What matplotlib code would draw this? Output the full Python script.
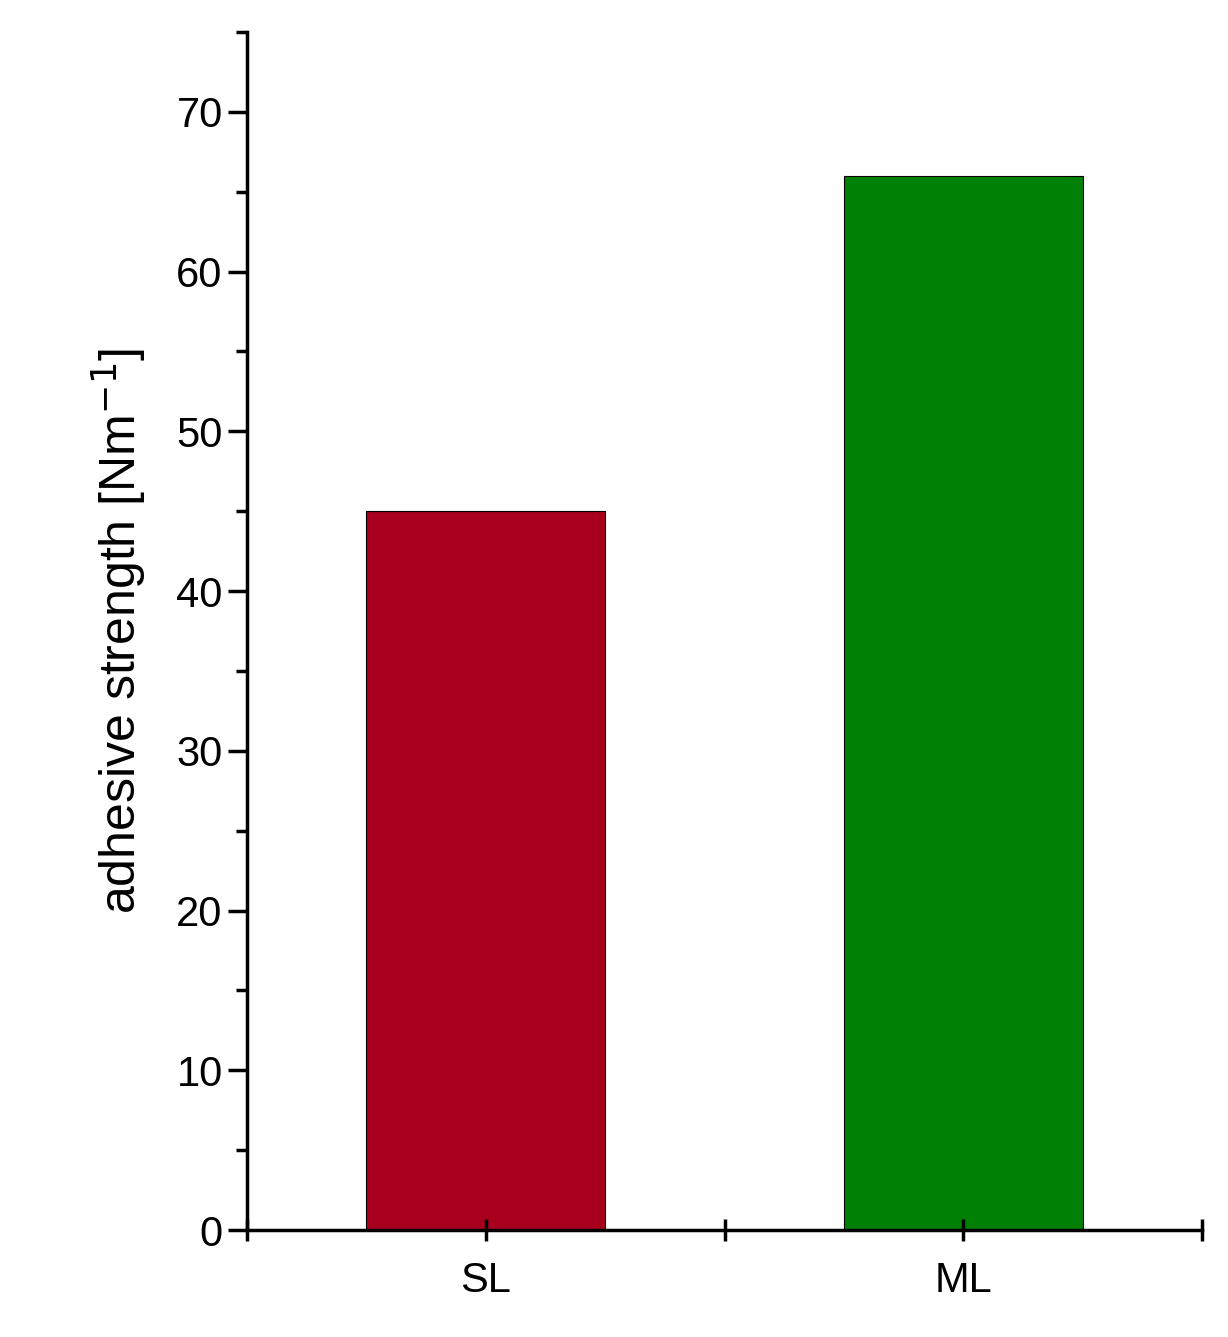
import matplotlib
matplotlib.use("Agg")
import matplotlib.pyplot as plt
from matplotlib.ticker import MultipleLocator

categories = ["SL", "ML"]
values = [45, 66]
colors = ["#A8001C", "#008005"]

plt.rcParams['font.family'] = ['Liberation Sans', 'DejaVu Sans']
fig = plt.figure(figsize=(12.28, 13.37), dpi=100)
ax = fig.add_axes([247/1228, 1-1230/1337, (1202-247)/1228, (1230-32)/1337])
x = [1, 2]
ax.bar(x, values, width=0.5, color=colors, edgecolor="black", linewidth=0.8)
ax.set_xlim(0.5, 2.5)
ax.set_ylim(0, 75)
ax.set_xticks(x)
ax.set_xticklabels(categories)
ax.xaxis.set_minor_locator(MultipleLocator(0.5))
ax.yaxis.set_major_locator(MultipleLocator(10))
ax.yaxis.set_minor_locator(MultipleLocator(5))
for s in ["top", "right"]:
    ax.spines[s].set_visible(False)
for s in ["left", "bottom"]:
    ax.spines[s].set_linewidth(2.5)
ax.tick_params(axis="both", which="major", length=14, width=2.5, labelsize=30, direction="out")
ax.tick_params(axis="both", which="minor", length=8, width=2.5, direction="out")
ax.tick_params(axis="x", which="both", direction="inout", length=16)
ax.tick_params(axis="x", which="major", pad=14)
ax.set_ylabel("adhesive strength [Nm$^{-1}$]", fontsize=36, labelpad=20)
fig.savefig("out.png", dpi=100)
